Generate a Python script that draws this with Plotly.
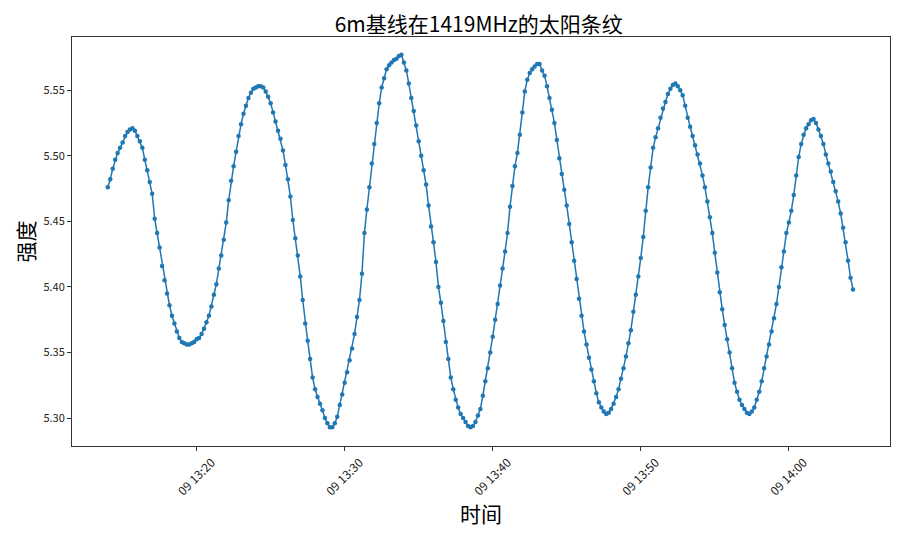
import pandas as pd
import plotly.graph_objects as go

# sampling of the series: one reading every 10 s from 13:14:00
START_TIME = "2024-01-09 13:14:00"
STEP = "10s"

intensity = [
    5.476, 5.482, 5.490, 5.497, 5.502, 5.506, 5.510, 5.515, 5.518, 5.520,
    5.521, 5.519, 5.515, 5.511, 5.506, 5.497, 5.489, 5.480, 5.471, 5.452,
    5.441, 5.430, 5.416, 5.405, 5.395, 5.386, 5.378, 5.372, 5.366, 5.361,
    5.358, 5.357, 5.356, 5.356, 5.357, 5.358, 5.360, 5.361, 5.364, 5.368,
    5.373, 5.378, 5.385, 5.394, 5.402, 5.414, 5.424, 5.436, 5.449, 5.466,
    5.481, 5.492, 5.503, 5.515, 5.524, 5.532, 5.538, 5.544, 5.548, 5.551,
    5.552, 5.553, 5.553, 5.552, 5.549, 5.545, 5.540, 5.533, 5.526, 5.519,
    5.513, 5.504, 5.493, 5.482, 5.469, 5.451, 5.437, 5.424, 5.408, 5.390,
    5.372, 5.359, 5.345, 5.331, 5.322, 5.316, 5.311, 5.306, 5.300, 5.296,
    5.293, 5.293, 5.296, 5.301, 5.310, 5.318, 5.327, 5.335, 5.344, 5.353,
    5.364, 5.377, 5.390, 5.410, 5.441, 5.459, 5.476, 5.494, 5.509, 5.525,
    5.540, 5.552, 5.559, 5.566, 5.569, 5.571, 5.573, 5.574, 5.576, 5.577,
    5.571, 5.565, 5.555, 5.544, 5.534, 5.523, 5.511, 5.500, 5.489, 5.478,
    5.462, 5.446, 5.434, 5.419, 5.400, 5.388, 5.374, 5.358, 5.345, 5.331,
    5.322, 5.314, 5.308, 5.303, 5.300, 5.297, 5.294, 5.293, 5.294, 5.297,
    5.302, 5.307, 5.317, 5.328, 5.338, 5.350, 5.362, 5.375, 5.387, 5.401,
    5.414, 5.427, 5.441, 5.461, 5.477, 5.492, 5.502, 5.516, 5.533, 5.549,
    5.558, 5.563, 5.566, 5.568, 5.570, 5.570, 5.565, 5.561, 5.553, 5.544,
    5.535, 5.525, 5.512, 5.498, 5.486, 5.474, 5.462, 5.448, 5.434, 5.420,
    5.406, 5.391, 5.378, 5.366, 5.356, 5.346, 5.337, 5.328, 5.319, 5.312,
    5.308, 5.305, 5.303, 5.304, 5.307, 5.311, 5.316, 5.322, 5.330, 5.338,
    5.347, 5.357, 5.367, 5.381, 5.394, 5.408, 5.422, 5.438, 5.458, 5.476,
    5.491, 5.506, 5.514, 5.521, 5.529, 5.536, 5.541, 5.547, 5.551, 5.554,
    5.555, 5.553, 5.550, 5.546, 5.538, 5.529, 5.522, 5.515, 5.508, 5.501,
    5.494, 5.485, 5.476, 5.465, 5.453, 5.441, 5.426, 5.411, 5.396, 5.383,
    5.371, 5.360, 5.350, 5.338, 5.327, 5.320, 5.314, 5.310, 5.307, 5.304,
    5.303, 5.305, 5.308, 5.314, 5.320, 5.328, 5.338, 5.347, 5.356, 5.366,
    5.376, 5.387, 5.400, 5.415, 5.427, 5.441, 5.449, 5.458, 5.470, 5.485,
    5.499, 5.509, 5.516, 5.521, 5.524, 5.527, 5.528, 5.525, 5.520, 5.515,
    5.509, 5.501, 5.494, 5.488, 5.480, 5.473, 5.465, 5.456, 5.445, 5.434,
    5.420, 5.407, 5.398,
]

times = pd.date_range(START_TIME, periods=len(intensity), freq=STEP)

x_range = ["2024-01-09 13:11:35", "2024-01-09 14:06:50"]
y_range = [5.2787, 5.5905]
y_ticks = [5.30, 5.35, 5.40, 5.45, 5.50, 5.55]
x_ticks = ["2024-01-09 13:20", "2024-01-09 13:30", "2024-01-09 13:40",
           "2024-01-09 13:50", "2024-01-09 14:00"]

FONT = "Noto Sans CJK SC, SimHei, sans-serif"

fig = go.Figure(
    go.Scatter(
        x=times,
        y=intensity,
        mode="lines+markers",
        line=dict(color="#1f77b4", width=1.5),
        marker=dict(color="#1f77b4", size=4.5),
        showlegend=False,
    )
)

axis_style = dict(
    showline=True,
    linecolor="#333333",
    linewidth=1,
    mirror=True,
    showgrid=False,
    zeroline=False,
    ticks="outside",
    ticklen=4,
    tickcolor="#333333",
    tickfont=dict(family=FONT, size=11, color="#222222"),
)

# the page body adds an 8px offset, so the figure is a bit smaller than the window
fig.update_layout(
    width=907,
    height=536,
    margin=dict(l=64, r=25, t=29, b=98),
    paper_bgcolor="white",
    plot_bgcolor="white",
    title=dict(
        text="6m基线在1419MHz的太阳条纹",
        font=dict(family=FONT, size=21, color="black"),
        x=0.519,
        xanchor="center",
        y=0.969,
        yanchor="middle",
    ),
    xaxis=dict(
        axis_style,
        range=x_range,
        tickvals=x_ticks,
        tickformat="%d %H:%M",
        tickangle=-45,
        ticklabelshift=15,
        tickfont=dict(family=FONT, size=12, color="#222222"),
        title=dict(text="时间", font=dict(family=FONT, size=21, color="black"), standoff=2),
    ),
    yaxis=dict(
        axis_style,
        range=y_range,
        tickvals=y_ticks,
        tickformat=".2f",
        title=dict(text="强度", font=dict(family=FONT, size=21, color="black"), standoff=3),
    ),
)

fig.write_html("out.html")
